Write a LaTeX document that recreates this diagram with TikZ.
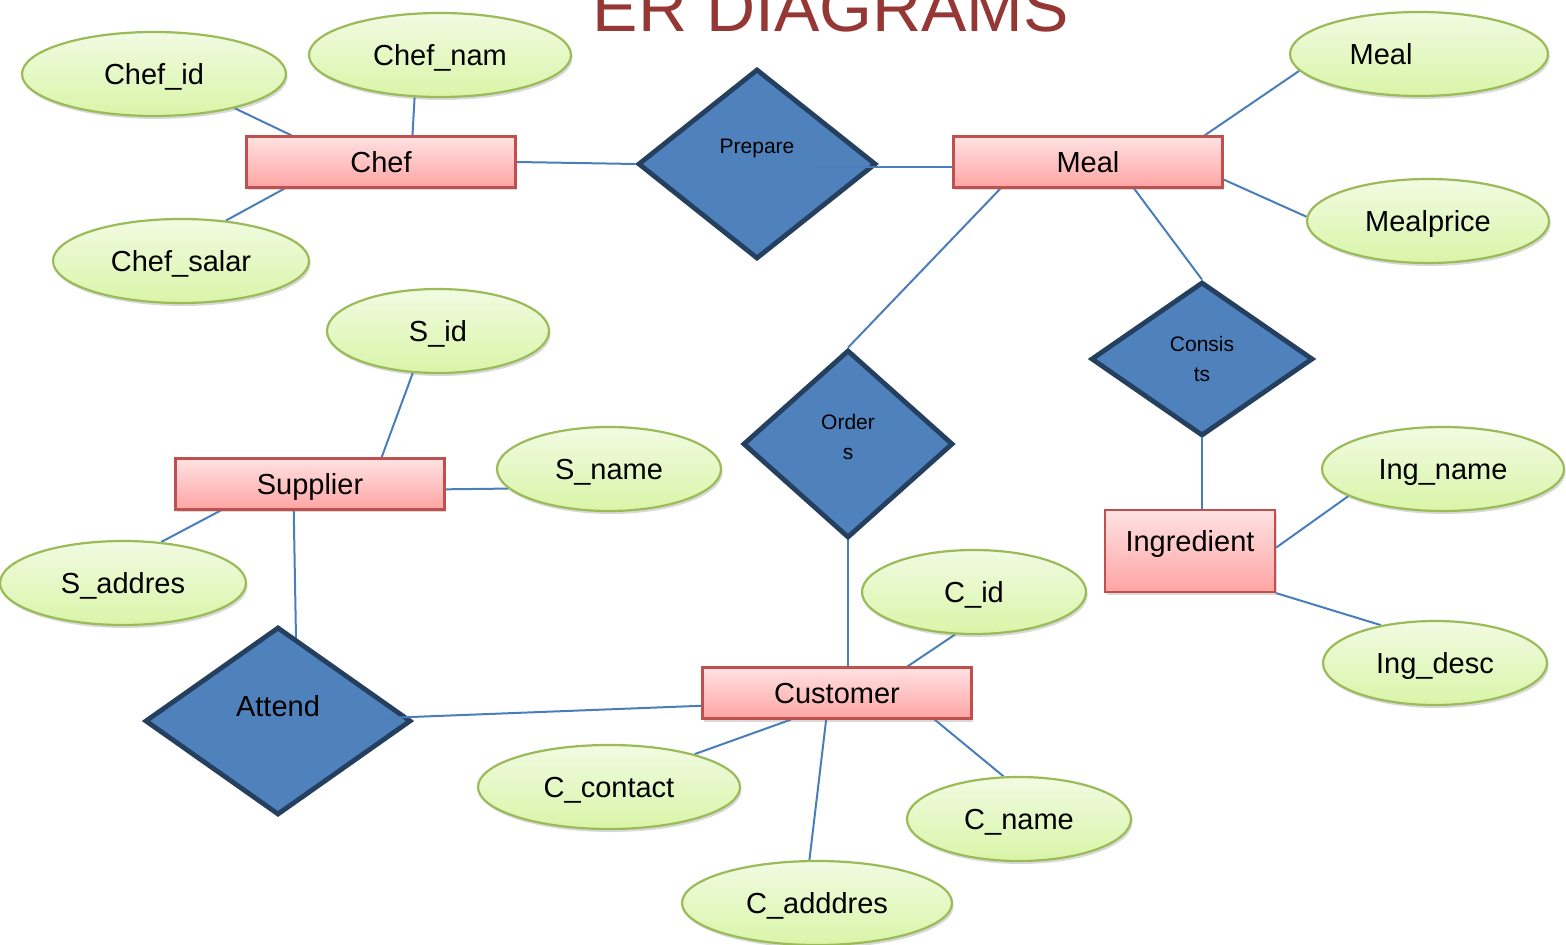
\documentclass[tikz,border=0pt]{standalone}
\usepackage{fontspec}
\setmainfont{Liberation Sans}
\usetikzlibrary{shapes.geometric,shadows,calc}
\definecolor{linec}{HTML}{4A7EBB}
\definecolor{attrb}{HTML}{9BBB59}
\definecolor{attrtop}{HTML}{F1FBE2}
\definecolor{attrbot}{HTML}{D9F5A8}
\definecolor{entb}{HTML}{C0504D}
\definecolor{enttop}{HTML}{FFE2E2}
\definecolor{entbot}{HTML}{FFA4A4}
\definecolor{relfill}{HTML}{4F81BD}
\definecolor{relb}{HTML}{253F5F}
\definecolor{titlec}{HTML}{953735}
\pgfdeclarelayer{background}
\pgfsetlayers{background,main}
\begin{document}
\begin{tikzpicture}[x=0.5pt,y=-0.5pt,
  attr/.style={ellipse, draw=attrb, line width=1.1pt, top color=attrtop, bottom color=attrbot,
    inner sep=0pt, minimum height=42pt, font=\fontsize{14.5}{16}\selectfont,
    text height=10.5pt, text depth=0pt,
    drop shadow={shadow xshift=0.8pt, shadow yshift=-1.5pt, opacity=0.3}},
  ent/.style={rectangle, draw=entb, line width=1.1pt, top color=enttop, bottom color=entbot,
    inner sep=0pt, minimum width=134.5pt, minimum height=25.5pt, font=\fontsize{14.5}{16}\selectfont,
    text height=10.5pt, text depth=0pt,
    drop shadow={shadow xshift=0.8pt, shadow yshift=-1.5pt, opacity=0.3}},
  rel/.style={diamond, draw=relb, line width=2.4pt, fill=relfill, inner sep=0pt},
  rellab/.style={font=\fontsize{10.5}{15}\selectfont, align=center},
  conn/.style={draw=linec, line width=1pt}]
\clip (0,0) rectangle (1566,945);

% title
\node[font=\fontsize{34}{40}\selectfont, text=titlec, anchor=base] (title) at (831,32) {ER DIAGRAMS};

% entities
\node[ent] (chef) at (381,162) {Chef};
\node[ent] (meal) at (1088,162) {Meal};
\node[ent] (supplier) at (310,484) {Supplier};
\node[ent, minimum width=85pt, minimum height=41pt, label={[yshift=5pt, font=\fontsize{14.5}{16}\selectfont, text height=10.5pt, text depth=0pt]center:Ingredient}] (ingredient) at (1190,551) {};
\node[ent] (customer) at (837,693) {Customer};

% relationships
\node[rel, minimum width=119pt, minimum height=95pt,
  label={[rellab, yshift=8pt]center:Prepare}] (prepare) at (757,164) {};
\node[rel, minimum width=105pt, minimum height=94pt,
  label={[rellab, yshift=3.75pt]center:Order\\s}] (orders) at (848,444) {};
\node[rel, minimum width=111pt, minimum height=77pt,
  label={[rellab]center:Consis\\ts}] (consists) at (1202,359) {};
\node[rel, minimum width=133pt, minimum height=94pt,
  label={[font=\fontsize{14.5}{16}\selectfont, yshift=7.5pt]center:Attend}] (attend) at (278,721) {};

% attributes
\node[attr, minimum width=132pt] (chefid) at (154,74) {Chef\_id};
\node[attr, minimum width=131pt] (chefnam) at (440,55) {Chef\_nam};
\node[attr, minimum width=128pt] (chefsal) at (181,261) {Chef\_salar};
\node[attr, minimum width=111pt] (sid) at (438,331) {S\_id};
\node[attr, minimum width=112pt] (sname) at (609,469) {S\_name};
\node[attr, minimum width=123pt] (saddr) at (123,583) {S\_addres};
\node[attr, minimum width=129pt, label={[xshift=-19pt, font=\fontsize{14.5}{16}\selectfont, text height=10.5pt, text depth=0pt]center:Meal}] (mealattr) at (1419,54) {};
\node[attr, minimum width=121pt] (mealprice) at (1428,221) {Mealprice};
\node[attr, minimum width=121pt] (ingname) at (1443,469) {Ing\_name};
\node[attr, minimum width=112pt] (ingdesc) at (1435,663) {Ing\_desc};
\node[attr, minimum width=112pt] (cid) at (974,592) {C\_id};
\node[attr, minimum width=131pt] (ccontact) at (609,787) {C\_contact};
\node[attr, minimum width=112pt] (cname) at (1019,819) {C\_name};
\node[attr, minimum width=135pt] (caddr) at (817,903) {C\_adddres};

% connectors
\begin{pgfonlayer}{background}
\draw[conn] (chefid.-23) -- ($(chef.north west)!0.17!(chef.north east)$);
\draw[conn] (chefnam.-121) -- ($(chef.north west)!0.616!(chef.north east)$);
\draw[conn] (chefsal.42) -- ($(chef.south west)!0.144!(chef.south east)$);
\draw[conn] (chef.east) -- (prepare.west);
\draw[conn] (mealattr.-172) -- ($(meal.north west)!0.93!(meal.north east)$);
\draw[conn] (mealprice.178) -- ($(meal.north east)!0.83!(meal.south east)$);
\draw[conn] ($(meal.south west)!0.177!(meal.south east)$) -- (orders.north);
\draw[conn] ($(meal.south west)!0.67!(meal.south east)$) -- (consists.north);
\draw[conn] (consists.south) -- (consists.south |- ingredient.north);
\draw[conn] ($(ingredient.north east)!0.46!(ingredient.south east)$) -- (ingname.-164);
\draw[conn] (ingredient.south east) -- (ingdesc.145);
\draw[conn] (orders.south) -- (orders.south |- customer.north);
\draw[conn] (cid.-114) -- ($(customer.north west)!0.76!(customer.north east)$);
\draw[conn] ($(customer.south west)!0.86!(customer.south east)$) -- (cname.110);
\draw[conn] ($(customer.south west)!0.46!(customer.south east)$) -- (caddr.100);
\draw[conn] ($(customer.south west)!0.33!(customer.south east)$) -- (ccontact.21);
\draw[conn] (sid.-121) -- ($(supplier.north west)!0.764!(supplier.north east)$);
\draw[conn] ($(supplier.north east)!0.6!(supplier.south east)$) -- (sname.-169);
\draw[conn] ($(supplier.south west)!0.17!(supplier.south east)$) -- (saddr.47);
\draw[conn] ($(supplier.south west)!0.44!(supplier.south east)$) -- ($(attend.north)+(18,14)$);
\end{pgfonlayer}
\draw[conn] ($(prepare.center)+(55,3)$) -- ($(meal.west)+(0,5)$);
\draw[conn] ($(customer.north west)!0.74!(customer.south west)$) -- ($(attend.east)+(-28,-3)$);
\end{tikzpicture}
\end{document}
